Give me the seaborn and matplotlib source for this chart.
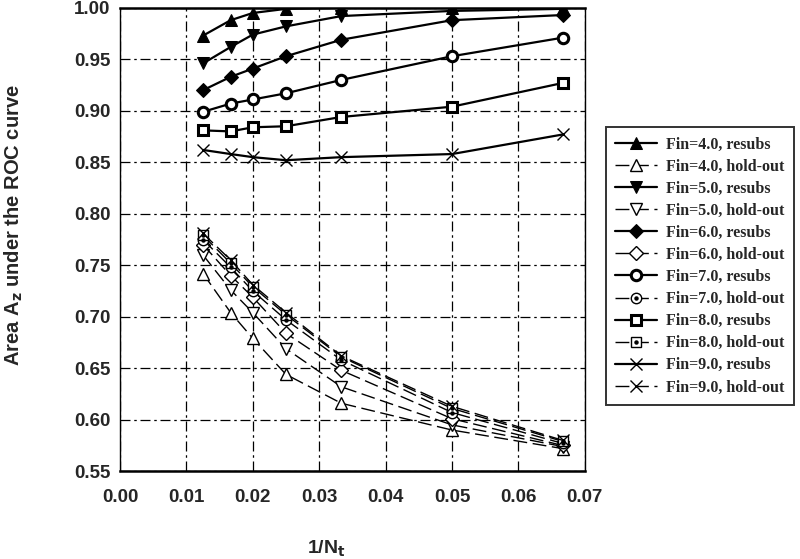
import matplotlib
matplotlib.use("Agg")
import matplotlib.pyplot as plt
import seaborn as sns
import pandas as pd

# 1/Nt for Nt = 80, 60, 50, 40, 30, 20, 15
inv_nt = [0.0125, 0.01667, 0.02, 0.025, 0.03333, 0.05, 0.06667]

fin_values = ["4.0", "5.0", "6.0", "7.0", "8.0", "9.0"]

resubs = {
    "4.0": [0.973, 0.988, 0.995, 0.999, 1.000, 1.000, 1.000],
    "5.0": [0.946, 0.962, 0.974, 0.982, 0.992, 0.997, 0.999],
    "6.0": [0.920, 0.933, 0.941, 0.953, 0.969, 0.988, 0.993],
    "7.0": [0.899, 0.907, 0.911, 0.917, 0.930, 0.953, 0.971],
    "8.0": [0.881, 0.880, 0.884, 0.885, 0.894, 0.904, 0.927],
    "9.0": [0.862, 0.858, 0.855, 0.852, 0.855, 0.858, 0.877],
}

holdout = {
    "4.0": [0.742, 0.704, 0.679, 0.644, 0.616, 0.590, 0.572],
    "5.0": [0.760, 0.726, 0.704, 0.669, 0.632, 0.595, 0.574],
    "6.0": [0.770, 0.740, 0.719, 0.684, 0.648, 0.601, 0.575],
    "7.0": [0.775, 0.748, 0.725, 0.697, 0.658, 0.607, 0.577],
    "8.0": [0.779, 0.752, 0.729, 0.702, 0.661, 0.611, 0.579],
    "9.0": [0.781, 0.755, 0.731, 0.704, 0.662, 0.613, 0.580],
}

markers = {"4.0": "^", "5.0": "v", "6.0": "D", "7.0": "o", "8.0": "s", "9.0": "x"}
msizes = {"4.0": 9, "5.0": 9, "6.0": 7.5, "7.0": 7.5, "8.0": 7.5, "9.0": 8}

rows = []
for fin in fin_values:
    for x, r, h in zip(inv_nt, resubs[fin], holdout[fin]):
        rows.append({"fin": fin, "kind": "resubs", "x": x, "az": r})
        rows.append({"fin": fin, "kind": "hold-out", "x": x, "az": h})
df = pd.DataFrame(rows)

sns.set_style("white")
plt.rcParams["font.family"] = ["Liberation Sans", "DejaVu Sans"]

fig = plt.figure(figsize=(8, 5.59), dpi=100)
ax = fig.add_axes([0.15, 0.157, 0.581, 0.829])

handles = []
labels = []
for fin in fin_values:
    m = markers[fin]
    ms = msizes[fin]
    for kind in ["resubs", "hold-out"]:
        sub = df[(df.fin == fin) & (df.kind == kind)]
        if kind == "resubs":
            if fin in ("7.0", "8.0"):
                kw = dict(markerfacecolor="white", markeredgecolor="black", markeredgewidth=2.2)
            elif fin == "9.0":
                kw = dict(markeredgecolor="black", markeredgewidth=1.0)
            else:
                kw = dict(markerfacecolor="black", markeredgecolor="black")
            sns.lineplot(data=sub, x="x", y="az", ax=ax, color="black", linewidth=1.6,
                         marker=m, markersize=ms, zorder=3, **kw)
            handles.append(ax.lines[-1])
        else:
            kw = dict(markerfacecolor="white", markeredgecolor="black", markeredgewidth=1.0)
            sns.lineplot(data=sub, x="x", y="az", ax=ax, color="black", linewidth=1.0,
                         marker=m, markersize=ms, dashes=(10, 4), zorder=3, **kw)
            line = ax.lines[-1]
            if fin in ("7.0", "8.0"):
                # small dot in the centre of the hollow marker
                dots, = ax.plot(sub["x"], sub["az"], linestyle="none", marker="o",
                                markersize=2.2, color="black", zorder=4)
                handles.append((line, dots))
            else:
                handles.append(line)
        labels.append(f"Fin={fin}, {kind}")

ax.set_xlim(0, 0.07)
ax.set_ylim(0.55, 1.00)
ax.set_xticks([0.00, 0.01, 0.02, 0.03, 0.04, 0.05, 0.06, 0.07])
ax.set_yticks([0.55, 0.60, 0.65, 0.70, 0.75, 0.80, 0.85, 0.90, 0.95, 1.00])
ax.set_xticklabels([f"{v:.2f}" for v in ax.get_xticks()], fontweight="bold", fontsize=13.5)
ax.set_yticklabels([f"{v:.2f}" for v in ax.get_yticks()], fontweight="bold", fontsize=13.5)
ax.tick_params(axis="both", direction="out", length=4, width=1, color="black", pad=3)
ax.tick_params(axis="x", pad=9)

ax.grid(True, color="black", linestyle=(0, (8, 3, 2, 3)), linewidth=0.9)
ax.set_axisbelow(True)

for side in ["left", "right"]:
    ax.spines[side].set_linewidth(1.0)
    ax.spines[side].set_color("black")
ax.spines["top"].set_linewidth(1.8)
ax.spines["bottom"].set_linewidth(1.8)
ax.spines["top"].set_color("black")
ax.spines["bottom"].set_color("black")

ax.set_xlabel("1/N$_\\mathbf{t}$", fontweight="bold", fontsize=14)
ax.xaxis.set_label_coords(0.443, -0.145)
ax.set_ylabel("Area A$_\\mathbf{z}$ under the ROC curve", fontweight="bold", fontsize=14.5)
ax.yaxis.set_label_coords(-0.204, 0.531)

leg = ax.legend(handles, labels, loc="upper left", bbox_to_anchor=(1.028, 0.76),
                frameon=True, fancybox=False, edgecolor="black", handlelength=2.6,
                handletextpad=0.6, labelspacing=0.38, borderpad=0.6,
                prop={"family": "Liberation Serif", "weight": "bold", "size": 11.5})
leg.get_frame().set_linewidth(1.4)

fig.savefig("out.png", dpi=100)
plt.close(fig)
